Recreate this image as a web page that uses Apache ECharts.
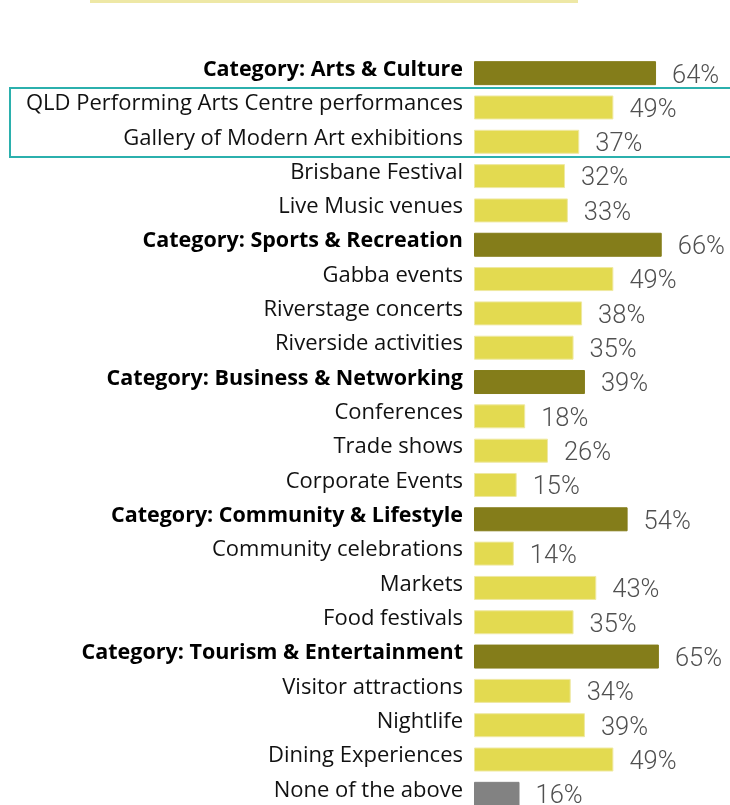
<!DOCTYPE html>
<html>
<head>
<meta charset="utf-8">
<script src="https://cdn.jsdelivr.net/npm/echarts@6/dist/echarts.min.js"></script>
<style>
  html, body { margin: 0; padding: 0; background: #fff; }
  #chart { width: 730px; height: 805px; }
</style>
</head>
<body>
<div id="chart"></div>
<script>
const categories = [
  'Category: Arts & Culture',
  'QLD Performing Arts Centre performances',
  'Gallery of Modern Art exhibitions',
  'Brisbane Festival',
  'Live Music venues',
  'Category: Sports & Recreation',
  'Gabba events',
  'Riverstage concerts',
  'Riverside activities',
  'Category: Business & Networking',
  'Conferences',
  'Trade shows',
  'Corporate Events',
  'Category: Community & Lifestyle',
  'Community celebrations',
  'Markets',
  'Food festivals',
  'Category: Tourism & Entertainment',
  'Visitor attractions',
  'Nightlife',
  'Dining Experiences',
  'None of the above'
];

const values = [64, 49, 37, 32, 33, 66, 49, 38, 35, 39, 18, 26, 15, 54, 14, 43, 35, 65, 34, 39, 49, 16];

// 'cat' = category total, 'item' = sub item, 'none' = none of the above
const kinds = ['cat', 'item', 'item', 'item', 'item', 'cat', 'item', 'item', 'item',
  'cat', 'item', 'item', 'item', 'cat', 'item', 'item', 'item', 'cat', 'item', 'item', 'item', 'none'];

const colors = { cat: '#847d1a', item: '#e3da50', none: '#828282' };

const chart = echarts.init(document.getElementById('chart'));

chart.setOption({
  animation: false,
  grid: { left: 474, right: 0, top: 56, height: 755, outerBoundsMode: 'none', containLabel: false },
  xAxis: {
    type: 'value',
    min: 0,
    max: 90,
    show: false
  },
  yAxis: {
    type: 'category',
    inverse: true,
    data: categories,
    axisLine: { show: false },
    axisTick: { show: false },
    axisLabel: {
      margin: 11,
      padding: [0, 0, 7, 0],
      fontFamily: 'Open Sans',
      fontSize: 22,
      color: '#111',
      formatter: (v, i) => kinds[i] === 'cat' ? '{b|' + v + '}' : v,
      rich: {
        b: { fontFamily: 'Open Sans', fontSize: 21.5, fontWeight: 'bold', color: '#000' }
      }
    }
  },
  series: [{
    type: 'bar',
    barWidth: 24,
    data: values.map((v, i) => ({
      value: v,
      itemStyle: {
        color: colors[kinds[i]],
        borderColor: kinds[i] === 'item' ? '#efe9a2' : colors[kinds[i]],
        borderWidth: 1
      }
    })),
    label: {
      show: true,
      position: 'right',
      distance: 16,
      offset: [0, 3],
      formatter: '{c}%',
      fontFamily: 'Roboto',
      fontWeight: 300,
      fontSize: 25.5,
      color: '#505050'
    }
  }],
  graphic: [
    {
      type: 'rect',
      shape: { x: 90, y: 0, width: 488, height: 3 },
      style: { fill: '#eee8a6' }
    },
    {
      type: 'rect',
      shape: { x: 10, y: 88, width: 730, height: 69 },
      style: { fill: 'none', stroke: '#2bb0ad', lineWidth: 2 }
    }
  ]
});
</script>
</body>
</html>
